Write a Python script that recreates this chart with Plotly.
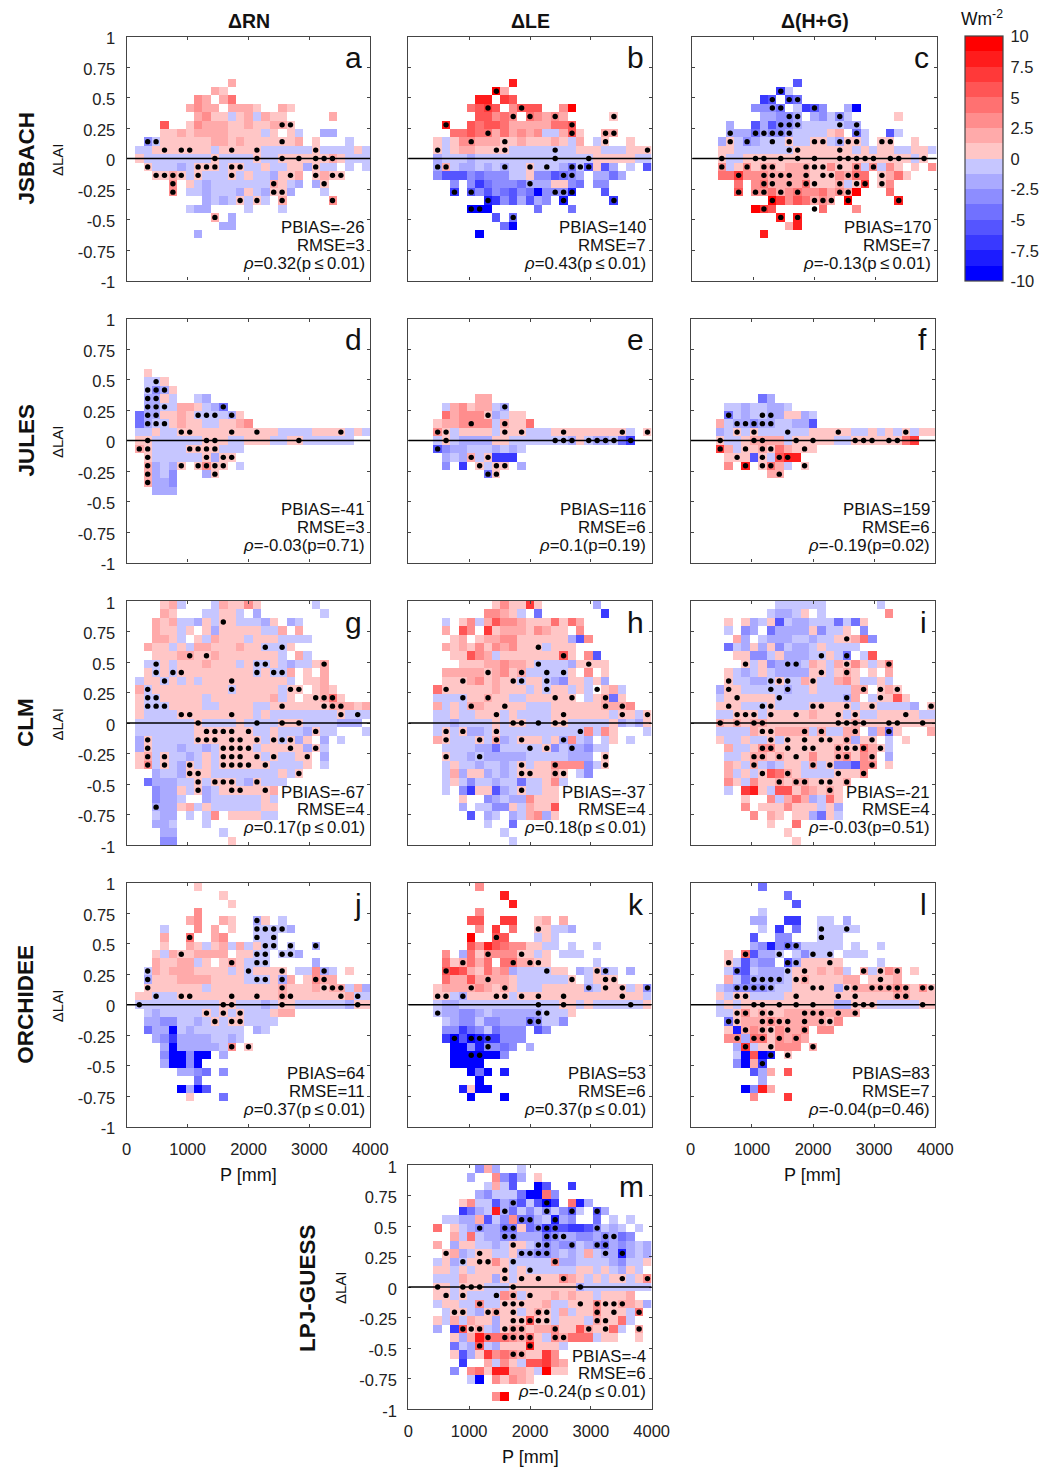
import plotly.graph_objects as go

W, H = 1050, 1468
NBINS = 29
FONT = "Liberation Sans"

# cell codes: . empty, 1-8 positive class, a-h negative class. (row from top, first column, codes)
PANEL_A = [(5,12,"2"),(6,10,"21"),(7,8,"32.24"),(8,7,"2322.2221..21"),(9,8,"2311a12a211.....2"),
 (10,4,"5..1322211211221"),(11,4,"112122221111a1.1a..bb"),(12,2,"ca11111122121111112.1...a"),
 (13,1,"aa1111111a11111aaaaaa1aaaa1a"),(14,1,"1aaaaaaaa1aaaa1aa11111121aaa"),
 (15,2,"1aaaba111a11aa1aa11b1aa.a.a"),(16,3,"1121a1aaa1a1aab112.1211"),(17,5,"3.1abaaaaaaa21ab.b1"),
 (18,5,"3.aabaaab1ab11b...a"),(19,9,"baba1a1a.2.....3"),(20,7,"abb....a...a"),(21,10,"2.b"),(22,11,"bb"),(23,8,"b")]
DOTS_A = [(10,[18,19]),(12,[2,3,18]),(13,[4,6,7,12,15,22]),(14,[10,15,18,20,22,23,24]),(15,[2,8,9,10,12,13,22]),
 (16,[3,4,5,6,8,12,19,22,24,25]),(17,[5,17,23]),(18,[5,17,18]),(19,[13,15,18,24]),(21,[10])]

PANEL_B = [(5,12,"7"),(6,10,"82"),(7,8,"77.65"),(8,7,"4565.3555..38"),(9,8,"55343.43232.....1"),
 (10,4,"7..5455422222445"),(11,5,"44544242323aa251..22"),
 (12,3,"1a13322211211121a2.a1..1"),(13,3,"1a1221111aaaaaaaa111aaa111"),(14,3,"baaabaaaaaaaaaaaaaa11111aa"),
 (15,3,"b2abbababaa1aaabdae1eb.a.e"),(16,3,"ceeecdcccaa1ccedcb.bbdb"),(17,5,"c.cfdcccdbbb11cd.cc"),
 (18,5,"f.ececdecdhcccg...e"),(19,9,"gfcebebc.g.....f"),
 (20,7,"hhh.....d...d"),(21,10,"e.d"),(22,11,"dh"),(23,8,"h")]
DOTS_B = [(6,[10]),(8,[9,13]),(9,[12,14,17,24]),(10,[4,19]),(11,[9,19,23,24]),(12,[7,11,23]),(13,[3,10,11,17,28]),
 (14,[17,21]),(15,[3,4,11,14,16,19,20,21]),(16,[18,19]),(17,[14]),(18,[5,7,17,18,19]),(19,[9,18,24]),(20,[7,8]),(21,[12])]

PANEL_C = [(5,12,"e"),(6,10,"fa"),(7,8,"fe.ed"),(8,7,"cccd.afec..bh"),(9,8,"bbccb.bcaca.....1"),
 (10,4,"b..ebeccbaaaaabb"),(11,4,"bbbdbccbaaaa12.da..ea"),(12,3,"b1acbaaa1aa11ab11a.11..1"),
 (13,3,"11aaaaaaa1111111a1a11aa11a"),(14,3,"1aa11111111111111111111a1"),(15,3,"3a131221222113113a3a31.1.3"),
 (16,3,"446333222221113244.1241"),(17,5,"4.34222241112a16.13"),
 (18,5,"5.3342343342328...4"),(19,9,"86354232.8.....7"),(20,7,"865.....4...3"),(21,10,"7.7"),(22,11,"27"),(23,8,"7")]
DOTS_C = [(6,[10]),(7,[9,11,12]),(8,[9,10,14]),(9,[11,12,17]),(10,[10,11,12,17,19]),(11,[4,7,8,9,10,11,19]),
 (12,[4,6,9,11,14,15,17,18,19,22,23]),(13,[11,12,17]),(14,[3,7,8,10,12,14,17,18,19,20,21,23,24,27]),
 (15,[3,6,8,9,13,14,15,17,19,21]),(16,[5,8,9,10,11,13,15,16,18,19,22]),(17,[8,9,11,13,14,17,19,20,22]),
 (18,[5,7,8,10,12,17,18]),(19,[9,14,15,16,18,24]),(20,[8,14]),(21,[10,12])]

PANEL_D = [(6,2,"1"),(7,2,"aa1"),(8,2,"acb1"),(9,2,"bb1a..ab"),(10,2,"bbaa221abd"),
 (11,1,"dbb1121aaaab1"),(12,1,"dbaa1211aa1123"),(13,1,"aa1aa111111111111aaaa1111a1a"),
 (14,1,"11aaaaaa111aa111aa11aaaaaa"),(15,1,"21aaaa1111aaa"),(16,2,"1aaaaaa1b11"),(17,2,"2bab1.1311.a"),
 (18,2,"2bac...b1"),(19,2,"2bbc"),(20,3,"bbb")]
DOTS_D = [(7,[3]),(8,[2,3,4]),(9,[2,3]),(10,[2,3,4,11]),(11,[2,3,8,9,10,12]),(12,[2,3,4]),(13,[6,7,12,15,25]),
 (14,[2,9,10,20]),(15,[1,2,7,8,9,10]),(16,[2,9,11,12]),(17,[2,6,8,9,10,11]),(18,[2,10]),(19,[2])]

PANEL_E = [(9,8,"22"),(10,4,"a23122ab"),(11,4,"423331ba11"),(12,3,"1223333a2114"),
 (13,3,"31a1111a111aaa111111111a.1"),(14,3,"a1abbbb11aaaaaaab1abbadf"),(15,3,"ecbbaaababa"),
 (16,4,"bab2a1fff"),(17,4,"c.f.1a11.b"),(18,9,"d1")]
DOTS_E = [(10,[11]),(11,[9]),(12,[7,11]),(13,[3,4,11,13,18,25,28]),(14,[4,17,18,19,21,22,23,24,26]),(15,[3]),(16,[7,9]),(17,[8,10,11]),(18,[9,10])]

PANEL_F = [(9,8,"db"),(10,4,"aabaabba"),(11,4,"dabaabb11ba"),(12,3,"2abbcbbaabbe"),
 (13,3,"ba1a1aaaaaa11111aa1a1a1a11"),(14,3,"1aa12222a11111aa11111146"),
 (15,3,"62a112142111"),(16,4,"111e1a577"),(17,4,"3.7.142a.1"),(18,9,"22")]
DOTS_F = [(11,[4,8,9]),(12,[5,6,7,8,9]),(13,[5,7,11,17,25]),(14,[3,7,8,12,14,19,20,21,23,24]),(15,[3,6,8,9,13]),
 (16,[5,8,10,11]),(17,[6,8,9,13]),(18,[10])]

PANEL_G = [(0,4,"12a...a21131......a"),(1,4,"21...aa11a.b.......a"),(2,3,"212aab1a11aaab1.ba"),(3,3,"211a1.1b11111aa2.2"),
 (4,3,"221a.1a2111a111aaaa"),(5,2,"211a1a22111211aaa1"),(6,3,"111221121111111a.2a"),(7,2,"aa1a1112111a1aa1abaa12"),
 (8,2,"1a1a111111111a1aa2.1.2"),(9,1,"a11a1a1a1111111111a.112"),(10,1,"2a111111111a11111a11.121"),(11,1,"1aa11111a11111112a1.11241"),
 (12,1,"1aaa1111aa1111aa111111122212"),(13,1,"1aaaa111111111a1aaaaaaaa1aaa"),(14,1,"aaaaaaa1aaaa1aaaa111aaaabbb"),
 (15,1,"aaaaaaa1111111aa1aaab1aa...a"),(16,1,"b1aaaaa11111111a1a1b1.b.a"),(17,1,"b1aaabaaba1111a11111b1a"),(18,1,"12a1aaba1a11111a1aa11.b"),
 (19,1,"13a1ab1a1a111111aaaa1.a"),(20,3,"baab111aaaaaaaa1a1"),(21,2,"dbbbaa1a111ab1aaa"),(22,3,"cbb1a1ba1111112"),(23,3,"cbba..baaaaaa1a"),
 (24,3,"bbb12a1aaaaaa11"),(25,3,"abb.a.a3.1111aa"),(26,3,"bba...a"),(27,4,"bb.....a"),(28,4,"cc......1")]
DOTS_G = [(2,[11]),(5,[16,18]),(6,[7,9]),(7,[3,15,16,23]),(8,[3,5,6,15,17,18]),(9,[4,12]),(10,[2,12,19,20]),(11,[2,3,22,23,24]),
 (12,[2,3,4,18,23,24,25]),(13,[6,7,12,25,27]),(14,[8,15,18,20]),(15,[9,10,11,12,14,22]),(16,[2,8,9,10,12,13,15,17,18,19]),
 (17,[2,11,12,13,14,19,22]),(18,[2,4,11,12,13,15,17,21]),(19,[2,4,7,11,12,13,14,16]),(20,[7,8,20]),(21,[8,10,11,12,15]),
 (22,[8,12,13,16]),(24,[3])]

PANEL_H = [(0,10,"131161......b"),(1,9,"3321a.d.......f"),(2,4,"a.13a253321114142"),(3,4,"2.53.6122213211.3"),(4,5,"12.12233111111be3"),
 (5,4,"212131323111a111"),(6,5,"11532a111111151.3e"),(7,6,"111223221aaaab1111"),(8,4,"2222212312aaaaa1.3.1"),(9,4,"111231211a11abc11a1b"),
 (10,3,"41111112111a1a11a1a.12a"),(11,3,"aaaa11211aa111111.a12d1"),(12,3,"2a1a2211111aaa1111112223"),(13,3,"aa1aa111a1aaaa1111111a11a1"),
 (14,3,"aabaaaa1a11aaa11aaaaa1bab1"),(15,3,"a1a1bba1aaaaaaaaaa3a31...a"),(16,3,"21aaa1a2ba111a1b3ab.a1.a"),(17,4,"aaaabbdaaaaa1cabbcaa"),
 (18,4,"1aababbbbbaaaaabbb.1"),(19,4,"a1aabaaba1a113333ca1"),(20,4,"a2b11baba111121.ac"),(21,4,"a1acaabaadaa13a"),(22,4,"a.cf11eba1aa11"),
 (23,6,"1..cbabb3111"),(24,6,"b.aacc1a2115"),(25,7,"e.ba.ba23b1"),(26,9,"a..d"),(27,11,"a"),(28,12,"a")]
DOTS_H = [(5,[15]),(6,[18]),(7,[15,21]),(8,[9,13,16,18]),(9,[6,12,13,16]),(10,[4,16,22]),(11,[6,9,17,19,23]),(12,[7,11,23,25]),
 (13,[10,18,25,28]),(14,[12,13,15,17,18]),(15,[4,6,10,20]),(16,[4,8,10,13,18]),(17,[14,16,19]),(18,[4,8,23]),(19,[13,17,23]),
 (20,[13,14,17,18]),(22,[13])]

PANEL_I = [(0,10,"aaaaaa......a"),(1,9,"abba1.a.......3"),(2,4,"1.1ba1eabbaaadad1"),(3,4,"a.cb.dbbbb1caa1.c"),(4,5,"2b.abbbaabaa1124c"),
 (5,4,"dab1b1cabba1aaaa"),(6,5,"11cca1bbbaa1ad.a5"),(7,6,"1a1cbbba21a2131a13"),(8,4,"1aba1abbbb11a121.1.2"),(9,4,"1aabba1aa21aa231aa1a"),
 (10,3,"b11aaaaabaa1aaaa22.121"),(11,3,"a111111aaaaaaaab2.a1151"),(12,3,"111aaa1aaaa11111a11aaaab.1"),(13,3,"aa111a111112111a1aa11111aa"),
 (14,3,"21212211111111112111111111"),(15,3,"aaaa2112222a2aa22.b2d1...2"),(16,3,"1aa1aa1a11111112b11.a.1"),(17,4,"2aa1331111111211421a"),
 (18,4,"aa1221211131123132.b"),(19,4,"21a2aba11a2a1cce33.1"),(20,4,"2a1a15421aaaa1113"),(21,4,"31a311212211112"),(22,4,"a.671a55132121"),
 (23,6,"1..3a242ba41"),(24,6,"3.1113111a1b"),(25,7,"3.21.11bd1a"),(26,9,"1..4"),(27,11,"1"),(28,12,"1")]
DOTS_I = [(4,[18]),(6,[15,18]),(7,[6,11,12,18,23]),(8,[15,18]),(9,[4,9,10,11,14]),(10,[4,9,11,20,22,24]),(11,[5,10,18,22]),
 (12,[4,8,9,14,15,18,21,28]),(13,[5,6,7,9,12,17,19,25]),(14,[3,5,7,8,17,18,19,20,23,24,27]),(15,[8,9,13,15,19,23]),
 (16,[9,11,13,15,16,18,21]),(17,[8,9,11,13,14,17,18,19,20,22]),(18,[7,8,10,12,17,18,21]),(19,[7,14,16,21]),(20,[8,11,17,20]),
 (21,[10,12,13,15,16,18]),(22,[16])]

PANEL_J = [(0,8,"1"),(1,11,"1"),(2,12,"1"),(3,8,"3"),(4,7,"23..21..b1.a"),(5,4,"a...3.2.1..aaaab"),(6,4,"2..4..23...aaa"),(7,4,"1..21a12a2a1aa.a..b"),
 (8,3,"1a2112222.11aa.aab"),(9,3,"21122a1.121aaa.....b"),(10,2,"a212221111a1a1111.aa3ba.1"),(11,2,"b11122221111aaa1b2.1322"),
 (12,2,"1111111a1111111121112122a2b"),(13,1,"11aaa111111111111211111112aa"),(14,1,"aaaaaaaaaa11aaaba11aaaaaab11"),
 (15,2,"abaaaaa1a1a1aaa122"),(16,2,"bbccaaba1a11aaaa"),(17,2,"dbbhabaaaaaa.ba"),(18,3,"bcfbbbbaaba"),(19,4,"bhbbbbba3.1"),(20,4,"chhchh.b"),
 (21,4,"bhhch"),(22,6,"bbcd.c"),(23,8,"d"),(24,6,"hbhe"),(25,7,"1...d")]
DOTS_J = [(4,[15]),(5,[15,16,17,18]),(6,[7,15,17]),(7,[16,17,19,22]),(8,[6,15,16,18,19]),(9,[12,15,16]),(10,[2,14,18,23]),
 (11,[2,15,16,18,22,23]),(12,[2,18,23,24,25]),(13,[3,6,7,12,15,18,19,25,27]),(14,[1,11,12,18,27]),(15,[9,11,13]),(16,[10,12,13]),(19,[12,14])]

PANEL_K = [(0,8,"3"),(1,11,"7"),(2,12,"7"),(3,8,"3"),(4,7,"55..66..12.2"),(5,8,"3.6.4..11aab"),(6,7,"8..55...a1a"),(7,7,"537543311aa.a..a"),
 (8,4,"3.b41333311a1.aaa"),(9,4,"412424.442211.....a"),(10,4,"56521423baaaa11.ba1ba.b"),(11,4,"422522221aaaaaa1.a111"),
 (12,3,"1222232121aaa11111ba111a1c"),(13,3,"11ab11111a111111111111111a"),
 (14,3,"abbaaaaaaaaaaaa11a1aaaaaa1"),(15,3,"abbccbabbbbbbaaa1"),(16,4,"abccaccbbbdcaac"),(17,4,"ccfdcadccc.ec"),(18,4,"fhehgffccc"),
 (19,5,"hhcgccdc.b"),(20,5,"hhhhhhc"),(21,5,"hhhh"),(22,7,"hdh.g"),(23,8,"h"),(24,6,"g1hh"),(25,7,"h...h")]
DOTS_K = [(5,[15]),(6,[10]),(8,[9,13]),(9,[6,12,14,15]),(10,[4,16,22,23]),(11,[9,19,23,24]),(12,[7,11,21,23,25,28]),
 (13,[3,4,6,10,11,13,15,18,25]),(14,[15,18,26]),(15,[3,15,16]),(16,[14,15]),(18,[5,7,8,9]),(19,[9]),(20,[7,8])]

PANEL_L = [(0,8,"d"),(1,11,"d"),(2,12,"e"),(3,8,"a"),(4,7,"bb..ff..aa.b"),(5,8,"a.f.d..aaaaa"),(6,7,"e..cc...aaa"),(7,7,"bcgcdcaaaaa.a..a"),
 (8,4,"1.4ebba.acaaa.aaa"),(9,4,"1aebcc.eb11111....a"),(10,4,"adeabbba111212a.2a132.1"),(11,4,"2adbbbba12111122.1112"),
 (12,3,"abccccbaa11111b12222232131"),(13,3,"1a11aaaa111111111111122111"),(14,3,"a1a11111111111bb111aaaaa11"),
 (15,3,"aa131211222222222"),(16,4,"d1222322222213"),(17,4,"1g23213223.33"),(18,4,"33b4413232"),(19,5,"b6a11333.2"),(20,5,"ah5hg.1"),
 (21,5,"ch2f"),(22,7,"eb2.5"),(23,8,"b"),(24,6,"hc72"),(25,7,"3...6")]
DOTS_L = [(5,[15,18]),(6,[15]),(7,[11,12]),(8,[6,10,14,16]),(9,[4,11,12,16]),(10,[5,11,13,20,22,24]),(11,[7,8,9,10,12,13,22]),
 (12,[5,6,7,8,9,14,15,18,19,21,22,23,24,25,27,28]),(13,[5,6,12,17,19,24,25]),(14,[7,8,10,12,14,19,20,21,27]),
 (15,[5,6,8,9,13,14,15,17,19]),(16,[4,5,8,9,10,11,13,15,16]),(17,[6,8,9,11,13]),(18,[5,7,8,10,12]),(19,[6,9,14]),(20,[9,11]),(21,[8])]

PANEL_M = [(0,8,"c2b..a"),(1,7,"b..3ceb.1"),(2,9,"a2ae..he..f"),(3,8,"bcaaadhh4c"),(4,6,"13aaebceaehf.4gb"),(5,6,"fdba7bdacacacea.eb"),
 (6,4,"aabb2eac3ddbagbc..d.a.a"),(7,3,"4.1abcbbdd1dcfeeffecaba.a"),(8,5,"2a4abbccbbbdcbbccbcbdc"),(9,3,"2.b11aaba11abcbccabcdbcbab"),
 (10,4,"12ba11aa1bbccbaba2abbgbab"),(11,3,"a1ba11131aaaaa3bbaaaabcaa1"),(12,3,"11a1a1111a1aaaaaa11a1ab1a"),(13,3,"aaa2111b1a11111321a1a11a13"),
 (14,3,"11a111aaa11111111baaaaaaaa"),(15,3,"11a1aaaa32a11121211a1112"),(16,3,"a11aa3aa111112aa111311221b"),(17,4,"a11ab1211a121a2a113111a4"),
 (18,3,"1a2a211b111511a111a2114a"),(19,3,"b.f512ab12212231152114a.2"),(20,5,"1b274443241a32444a11..1"),(21,5,"dab5ab1117111a"),
 (22,5,"1eb1634321163"),(23,6,"f..2a31a55632"),(24,5,"c.34177221a811"),(25,7,"ah.31321"),(27,10,"38")]
DOTS_M = [(4,[12,16]),(5,[11,16,19,22]),(6,[13,14,17]),(7,[8,11,12,15,16,17,22]),(8,[11,12,16,17,18,23,24]),(9,[12,15,16,19,22,23]),
 (10,[4,8,13,14,15,16,23,25]),(11,[6,8,9,12,17]),(12,[11,14]),(13,[11,13,15,18,25,28]),(14,[3,6,7,8,12,20]),(15,[4,6,10,12,14]),
 (16,[8,11,12,13,20,22,23,24,25]),(17,[5,6,9,10,12,15,16,22,24,27]),(18,[12,13,14,15,16,22,23]),(19,[6,7,8,11,12,13,17,21,23,27]),
 (20,[9,11,12,13,14,17,18]),(21,[8,14]),(22,[12,13])]

LETTERS = ["a","b","c","d","e","f","g","h","i","j","k","l","m"]
PBIAS = ["-26","140","170","-41","116","159","-67","-37","-21","64","53","83","-4"]
RMSE = ["3","7","7","3","6","6","4","4","4","11","6","7","6"]
LE = "\u2009≤\u2009"
RHO = ["0.32(p"+LE+"0.01)","0.43(p"+LE+"0.01)","-0.13(p"+LE+"0.01)","-0.03(p=0.71)","0.1(p=0.19)","-0.19(p=0.02)","0.17(p"+LE+"0.01)",
       "0.18(p"+LE+"0.01)","-0.03(p=0.51)","0.37(p"+LE+"0.01)","0.37(p"+LE+"0.01)","-0.04(p=0.46)","-0.24(p"+LE+"0.01)"]
GRIDS = [PANEL_A,PANEL_B,PANEL_C,PANEL_D,PANEL_E,PANEL_F,PANEL_G,PANEL_H,PANEL_I,PANEL_J,PANEL_K,PANEL_L,PANEL_M]
DOTS = [DOTS_A,DOTS_B,DOTS_C,DOTS_D,DOTS_E,DOTS_F,DOTS_G,DOTS_H,DOTS_I,DOTS_J,DOTS_K,DOTS_L,DOTS_M]
Y_TICKS = [1,0.75,0.5,0.25,0,-0.25,-0.5,-0.75,-1]
Y_LABELS = ["1","0.75","0.5","0.25","0","-0.25","-0.5","-0.75","-1"]
X_TICKS = [0,1000,2000,3000,4000]
CB_TICKS = [10,7.5,5,2.5,0,-2.5,-5,-7.5,-10]
CB_LABELS = ["10","7.5","5","2.5","0","-2.5","-5","-7.5","-10"]
ROW_NAMES = ["JSBACH","JULES","CLM","ORCHIDEE"]
COL_TITLES = ["ΔRN","ΔLE","Δ(H+G)"]
SHADES = ["#FFC6C6","#FFAAAA","#FF8D8D","#FF7171","#FF5555","#FF3939","#FF1C1C","#FF0000"]
BLUES = ["#C6C6FF","#AAAAFF","#8D8DFF","#7171FF","#5555FF","#3939FF","#1C1CFF","#0000FF"]

# pixel frames of the axes: left, right, top, bottom
FRAMES = [(126.7,370.3,36.5,280.5),(408.3,651.7,36.5,280.5),(692.3,936.7,36.5,280.5),
 (126.7,370.3,318.5,562.5),(408.3,651.7,318.5,562.5),(690.7,935.3,318.5,562.5),
 (126.7,370.3,601,845),(408.3,651.7,601,845),(690.7,935.3,601,845),
 (126.7,370.3,882.7,1126.7),(408.3,651.7,882.7,1126.7),(690.7,935.3,882.7,1126.7),
 (408.3,651.7,1165,1409)]

def px(x): return x/W
def py(y): return 1-y/H

stepped = []
ordered = BLUES[::-1] + SHADES
for i, c in enumerate(ordered):
    stepped += [[i/16, c], [(i+1)/16, c]]

def code_value(ch):
    if ch in "12345678":
        return (int(ch)-0.5)*1.25
    if ch in "abcdefgh":
        return -(ord(ch)-96-0.5)*1.25
    return None

xc = [(i+0.5)*4000/NBINS for i in range(NBINS)]
yc = [-1+(j+0.5)*2/NBINS for j in range(NBINS)]

fig = go.Figure()
ann = []
def text(x, y, s, size=14, anchor="center", bold=False, angle=0):
    ann.append(dict(x=px(x), y=py(y), xref="paper", yref="paper", text=f"<b>{s}</b>" if bold else s, showarrow=False,
                    xanchor=anchor, yanchor="middle", textangle=angle, font=dict(family=FONT, size=size, color="#111"),
                    borderpad=0, borderwidth=0))

layout = {}
shapes = []
TICK_SIZE = 16.5
for n in range(13):
    z = [[None]*NBINS for _ in range(NBINS)]
    for row, start, codes in GRIDS[n]:
        for k, ch in enumerate(codes):
            v = code_value(ch)
            if v is not None and start+k < NBINS:
                z[NBINS-1-row][start+k] = v
    ax = n+1
    sfx = "" if ax == 1 else str(ax)
    fig.add_trace(go.Heatmap(x=xc, y=yc, z=z, coloraxis="coloraxis", xaxis="x"+sfx, yaxis="y"+sfx, hoverinfo="skip", xgap=0, ygap=0))
    dx, dy = [], []
    for row, cols in DOTS[n]:
        for c in cols:
            dx.append(xc[c]); dy.append(yc[NBINS-1-row])
    fig.add_trace(go.Scatter(x=dx, y=dy, mode="markers", xaxis="x"+sfx, yaxis="y"+sfx, hoverinfo="skip", showlegend=False,
                             marker=dict(color="black", size=5.4, line=dict(width=0))))
    L, R, T, B = FRAMES[n]
    show_x = n in (9, 11, 12)
    show_y = n % 3 == 0 or n == 12
    layout["xaxis"+sfx] = dict(domain=[px(L),px(R)], range=[0,4000], anchor="y"+sfx, tickmode="array", tickvals=X_TICKS,
        ticktext=[str(v) for v in X_TICKS], showticklabels=show_x, ticks="inside", ticklen=3, tickwidth=1, tickcolor="#444",
        showline=True, linewidth=1.2, linecolor="#444", mirror="allticks", showgrid=False, zeroline=False,
        tickfont=dict(family=FONT, size=TICK_SIZE, color="#222"), ticklabelstandoff=7)
    layout["yaxis"+sfx] = dict(domain=[py(B),py(T)], range=[-1,1], anchor="x"+sfx, tickmode="array", tickvals=Y_TICKS,
        ticktext=Y_LABELS, showticklabels=show_y, ticks="inside", ticklen=3, tickwidth=1, tickcolor="#444",
        showline=True, linewidth=1.2, linecolor="#444", mirror="allticks", showgrid=False, zeroline=False,
        tickfont=dict(family=FONT, size=TICK_SIZE, color="#222"), ticklabelstandoff=7, ticklabelshift=2)
    shapes.append(dict(type="line", xref="x"+sfx, yref="y"+sfx, x0=0, x1=4000, y0=0, y1=0, line=dict(color="black", width=1.4), layer="above"))
    rx = R-5.5
    text(rx, B-53, f"PBIAS={PBIAS[n]}", 16.8, "right")
    text(rx, B-35.5, f"RMSE={RMSE[n]}", 16.8, "right")
    text(rx, B-17.5, f"<i>ρ</i>={RHO[n]}", 16.8, "right")
    text(R-8, T+21.5, LETTERS[n], 30, "right")

for i, nm in enumerate(ROW_NAMES):
    L, R, T, B = FRAMES[i*3]
    text(26, (T+B)/2, nm, 22.5, "center", True, -90)
    text(57, (T+B)/2+1.5, "ΔLAI", 15, "center", False, -90)
text(307, 1288, "LPJ-GUESS", 22.5, "center", True, -90)
text(340, 1288, "ΔLAI", 15, "center", False, -90)
for i, t in enumerate(COL_TITLES):
    L, R, T, B = FRAMES[i]
    text((L+R)/2, 21.5, t, 19.5, "center", True)
text(248, 1175, "P [mm]", 18)
text(812, 1175, "P [mm]", 18)
text(530, 1457, "P [mm]", 18)
text(982, 18, "Wm<sup>-2</sup>", 17.5)

fig.update_layout(width=W, height=H, margin=dict(l=0,r=0,t=0,b=0,autoexpand=False), paper_bgcolor="white", plot_bgcolor="white",
    showlegend=False, annotations=ann, shapes=shapes,
    coloraxis=dict(cmin=-10, cmax=10, colorscale=stepped, colorbar=dict(x=px(964.5), xanchor="left", y=py(36.5), yanchor="top",
        len=244.5, lenmode="pixels", thickness=38, thicknessmode="pixels", xpad=0, ypad=0, outlinewidth=1.2, outlinecolor="#444",
        tickmode="array", tickvals=CB_TICKS, ticktext=CB_LABELS, ticks="outside", ticklen=4, tickcolor="rgba(0,0,0,0)",
        tickfont=dict(family=FONT, size=TICK_SIZE, color="#222"))),
    **layout)
fig.write_html("out.html", config=dict(displayModeBar=False), post_script="document.body.style.margin='0';")
